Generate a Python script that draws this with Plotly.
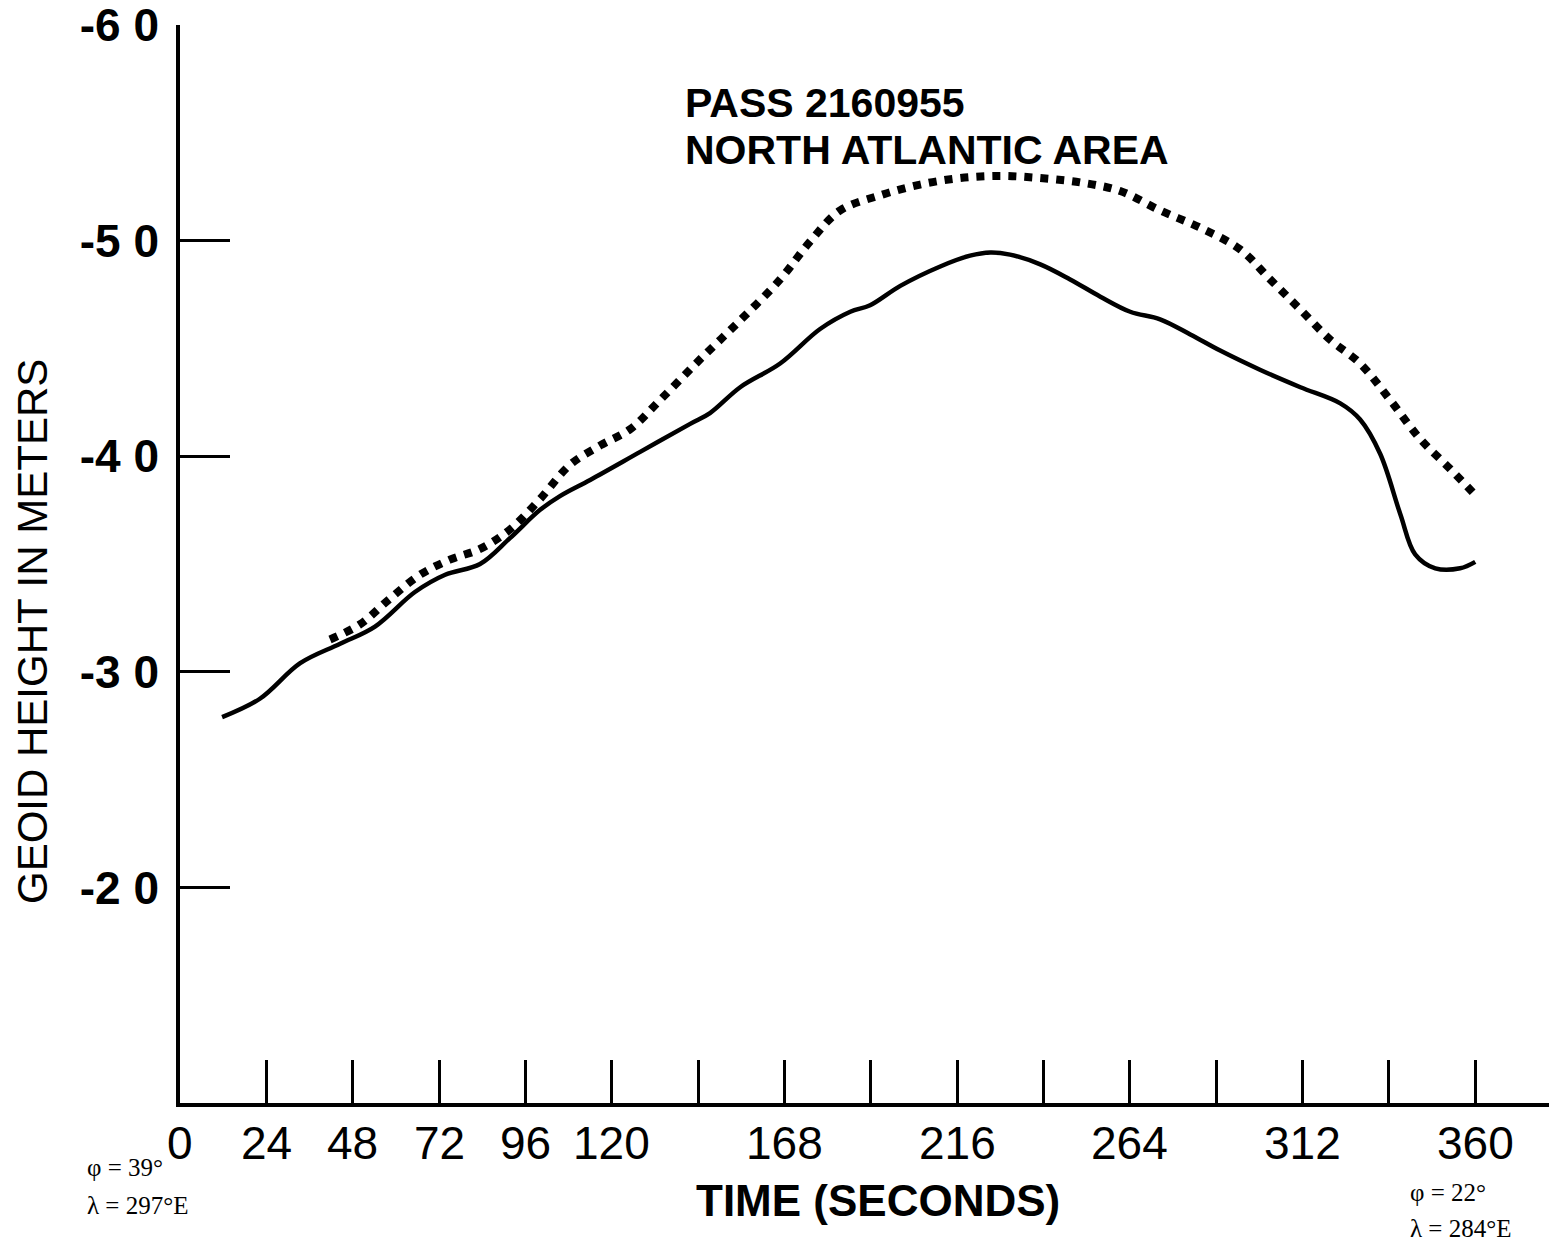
import plotly.graph_objects as go

# Solid curve (seconds, geoid height m)
solid_t = [11.7, 22.2, 33.4, 44.5, 54.2, 65.3, 73.7, 83.4, 91.7, 100.0, 105.6, 114.0,
           127.9, 141.8, 147.3, 155.7, 166.8, 177.9, 186.3, 191.8, 200.2, 211.3, 219.6,
           225.2, 230.7, 239.1, 247.4, 255.8, 264.1, 272.4, 280.8, 289.1, 300.3, 311.4,
           322.5, 328.0, 333.6, 339.2, 343.3, 348.9, 355.8, 360.0]
solid_h = [-27.9, -28.75, -30.4, -31.3, -32.1, -33.7, -34.5, -35.0, -36.2, -37.5, -38.15, -38.9,
           -40.2, -41.5, -42.0, -43.2, -44.3, -45.9, -46.7, -47.0, -47.9, -48.8, -49.3,
           -49.45, -49.35, -48.9, -48.2, -47.4, -46.7, -46.35, -45.65, -44.9, -44.0, -43.2,
           -42.45, -41.7, -40.1, -37.3, -35.45, -34.8, -34.8, -35.1]

# Dotted curve
dot_t = [41.7, 50.0, 58.4, 66.7, 75.0, 83.4, 91.7, 100.0, 108.4, 116.8, 125.1, 133.4,
         144.6, 155.7, 166.8, 175.1, 183.5, 194.6, 205.7, 216.8, 228.0, 239.1, 250.2,
         261.3, 272.4, 283.5, 294.6, 303.0, 311.4, 319.7, 328.0, 336.4, 344.7, 353.1, 360.0]
dot_h = [-31.5, -32.2, -33.4, -34.5, -35.2, -35.7, -36.6, -38.0, -39.6, -40.5, -41.25, -42.6,
         -44.5, -46.3, -48.2, -49.95, -51.4, -52.1, -52.6, -52.9, -53.0, -52.9, -52.7,
         -52.3, -51.4, -50.6, -49.6, -48.2, -46.8, -45.4, -44.3, -42.6, -40.8, -39.4, -38.2]

x_tickvals = [24, 48, 72, 96, 120, 144, 168, 192, 216, 240, 264, 288, 312, 336, 360]
x_labelvals = [0, 24, 48, 72, 96, 120, 168, 216, 264, 312, 360]
x_labels = ["0", "24", "48", "72", "96", "120", "168", "216", "264", "312", "360"]
y_tickvals = [-60, -50, -40, -30, -20]
y_ticktext = ["-6 0", "-5 0", "-4 0", "-3 0", "-2 0"]

PLOT_W = 1369
PLOT_H = 1078
TOP = 25
LEFT = 180


def px(xp):
    return (xp - LEFT) / PLOT_W


def py(yp):
    return 1 - (yp - TOP) / PLOT_H


fig = go.Figure()
fig.add_trace(go.Scatter(x=dot_t, y=dot_h, mode="lines",
                         line=dict(color="black", width=8, dash="8px,8px", shape="spline"),
                         showlegend=False, hoverinfo="skip"))
fig.add_trace(go.Scatter(x=solid_t, y=solid_h, mode="lines",
                         line=dict(color="black", width=4.5, shape="spline"),
                         showlegend=False, hoverinfo="skip"))

annotations = []
for v, s in zip(x_labelvals, x_labels):
    annotations.append(dict(x=v, y=0, xref="x", yref="paper", text=s, showarrow=False,
                            yanchor="top", yshift=-12,
                            font=dict(family="Liberation Sans", size=46, color="black")))

serif = dict(family="Liberation Serif", size=25, color="black")
annotations += [
    dict(x=px(683), y=py(103), xref="paper", yref="paper", xanchor="left", yanchor="middle",
         text="PASS 2160955", showarrow=False,
         font=dict(family="Liberation Sans", size=41, color="black", weight="bold")),
    dict(x=px(683), y=py(150), xref="paper", yref="paper", xanchor="left", yanchor="middle",
         text="NORTH ATLANTIC AREA", showarrow=False,
         font=dict(family="Liberation Sans", size=41, color="black", weight="bold")),
    dict(x=px(878), y=py(1200), xref="paper", yref="paper", xanchor="center", yanchor="middle",
         text="TIME (SECONDS)", showarrow=False,
         font=dict(family="Liberation Sans", size=44, color="black", weight="bold")),
    dict(x=px(32), y=py(632), xref="paper", yref="paper", xanchor="center", yanchor="middle",
         text="GEOID HEIGHT IN METERS", textangle=-90, showarrow=False,
         font=dict(family="Liberation Sans", size=42, color="black")),
    dict(x=px(85), y=py(1167), xref="paper", yref="paper", xanchor="left", yanchor="middle",
         text="φ = 39°", showarrow=False, font=serif),
    dict(x=px(85), y=py(1205), xref="paper", yref="paper", xanchor="left", yanchor="middle",
         text="λ = 297°E", showarrow=False, font=serif),
    dict(x=px(1408), y=py(1192), xref="paper", yref="paper", xanchor="left", yanchor="middle",
         text="φ = 22°", showarrow=False, font=serif),
    dict(x=px(1408), y=py(1228), xref="paper", yref="paper", xanchor="left", yanchor="middle",
         text="λ = 284°E", showarrow=False, font=serif),
]

fig.update_layout(
    width=1549, height=1241,
    margin=dict(l=LEFT, r=0, t=TOP, b=138),
    paper_bgcolor="white", plot_bgcolor="white",
    xaxis=dict(range=[0, 380.5], showgrid=False, zeroline=False,
               showline=True, linecolor="black", linewidth=3.5,
               tickvals=x_tickvals, ticktext=[""] * len(x_tickvals),
               ticks="inside", ticklen=43, tickwidth=3, tickcolor="black"),
    yaxis=dict(range=[-10, -60], showgrid=False, zeroline=False,
               showline=True, linecolor="black", linewidth=3.5,
               tickvals=y_tickvals, ticktext=y_ticktext,
               ticks="inside", ticklen=50, tickwidth=3, tickcolor="black",
               ticklabelstandoff=8, ticklabeloverflow="allow",
               tickfont=dict(family="Liberation Sans", size=46, color="black", weight="bold")),
    annotations=annotations,
)

fig.write_html("out.html")
